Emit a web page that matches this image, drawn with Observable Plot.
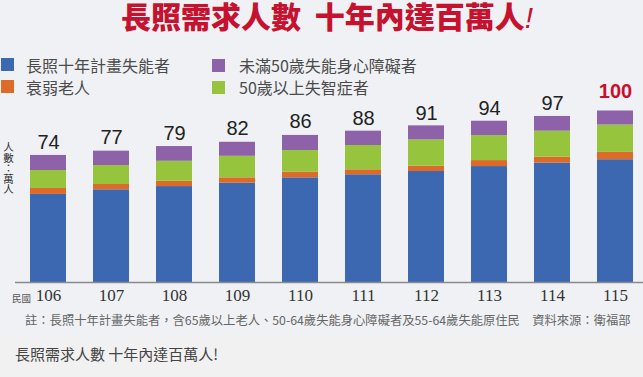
<!DOCTYPE html>
<html>
<head>
<meta charset="utf-8">
<script src="https://cdn.jsdelivr.net/npm/d3@7"></script>
<script src="https://cdn.jsdelivr.net/npm/@observablehq/plot@0.6"></script>
<style>
  html, body { margin: 0; padding: 0; background: #eff1f4; }
  #wrap { position: relative; width: 643px; height: 377px; overflow: hidden; background: #eff1f4;
          font-family: "Noto Sans CJK TC", "Noto Sans", sans-serif; }
  #lower { position: absolute; left: 0; top: 337px; width: 643px; height: 40px; background: #f1f1f1; }
  #title { position: absolute; left: 121px; top: 0px; font-size: 30px; line-height: 30px; font-weight: 900;
           color: #c6112f; white-space: nowrap; letter-spacing: 0px; }
  #title i { font-weight: 300; font-style: italic; font-family: "Liberation Sans", sans-serif; }
  .lg { position: absolute; font-size: 16px; line-height: 18px; color: #4b4b4b; white-space: nowrap; }
  .sw { position: absolute; width: 13px; height: 13px; }
  #chart { position: absolute; left: 0; top: 95px; }
  #ylab { position: absolute; left: 2px; top: 142px; font-size: 10.5px; line-height: 13px;
          color: #333; writing-mode: vertical-rl; text-orientation: upright; white-space: nowrap; }
  #minguo { position: absolute; left: 12px; top: 292px; font-size: 9.5px; line-height: 12px; color: #555; }
  #note { position: absolute; left: 25px; top: 312px; font-size: 12.3px; line-height: 16px; color: #666; white-space: nowrap; }
  #caption { position: absolute; left: 15px; top: 344px; font-size: 15px; line-height: 20px; color: #444; white-space: nowrap; }
</style>
</head>
<body>
<div id="wrap">
  <div id="lower"></div>
  <div id="title">長照需求人數&nbsp;&nbsp;十年內達百萬人<i>!</i></div>
  <div id="legend"></div>
  <div id="ylab">人數：萬人</div>
  <div id="chart"></div>
  <div id="minguo">民國</div>
  <div id="note">註：長照十年計畫失能者，含65歲以上老人、50-64歲失能身心障礙者及55-64歲失能原住民　資料來源：衛福部</div>
  <div id="caption">長照需求人數 十年內達百萬人!</div>
</div>
<script>
// ---- data (萬人) ----
const years = ["106", "107", "108", "109", "110", "111", "112", "113", "114", "115"];
const seriesNames = ["長照十年計畫失能者", "衰弱老人", "50歲以上失智症者", "未滿50歲失能身心障礙者"];
const disabled = [51.5, 54.2, 56.1, 58.1, 61.2, 63.0, 64.9, 67.8, 69.8, 71.8];
const frail    = [3.5, 3.1, 3.1, 3.1, 3.3, 2.9, 3.1, 3.5, 3.5, 4.3];
const dementia = [10.5, 11.1, 11.7, 12.6, 12.7, 14.2, 15.4, 14.6, 15.2, 16.0];
const under50  = [8.8, 8.4, 8.6, 8.2, 8.8, 8.4, 8.2, 8.4, 8.6, 8.2];
const totals   = [74, 77, 79, 82, 86, 88, 91, 94, 97, 100];
const colors   = ["#3b68b0", "#de6a28", "#96c43c", "#8d62a8"];

// ---- legend ----
const legend = document.getElementById("legend");
const legendItems = [
  {i: 0, sx: 1, sy: 58, tx: 26, ty: 56},
  {i: 1, sx: 1, sy: 80, tx: 26, ty: 78},
  {i: 3, sx: 212, sy: 59, tx: 239, ty: 56},
  {i: 2, sx: 212, sy: 81, tx: 239, ty: 78}
];
for (const it of legendItems) {
  const sw = document.createElement("div");
  sw.className = "sw";
  sw.style.left = it.sx + "px"; sw.style.top = it.sy + "px";
  sw.style.background = colors[it.i];
  legend.appendChild(sw);
  const t = document.createElement("div");
  t.className = "lg";
  t.style.left = it.tx + "px"; t.style.top = it.ty + "px";
  t.textContent = seriesNames[it.i];
  legend.appendChild(t);
}

// ---- long table ----
const seriesValues = [disabled, frail, dementia, under50];
const rows = [];
years.forEach((y, j) => {
  seriesNames.forEach((s, k) => rows.push({year: y, series: s, value: seriesValues[k][j]}));
});
const labelRows = years.map((y, j) => ({year: y, total: totals[j]}));

const chart = Plot.plot({
  width: 643,
  height: 215,
  marginLeft: 15,
  marginRight: 0,
  marginTop: 16,
  marginBottom: 28,
  style: {background: "transparent", overflow: "visible", color: "#333"},
  x: {type: "band", domain: years, range: [30, 633], paddingInner: 0.4286, paddingOuter: 0, label: null},
  y: {domain: [0, 100], range: [187, 16], axis: null},
  color: {domain: seriesNames, range: colors},
  marks: [
    Plot.barY(rows, {x: "year", y: "value", fill: "series"}),
    Plot.ruleY([0], {stroke: "#8a8a8a", strokeWidth: 1.5}),
    Plot.axisX({tickSize: 0, tickPadding: 6, fontSize: 17, fontFamily: "Liberation Serif, serif", label: null}),
    Plot.text(labelRows.filter(d => d.total < 100), {
      x: "year", y: "total", text: d => String(d.total), dy: -7, lineAnchor: "bottom",
      fontSize: 20, fontFamily: "Liberation Sans Narrow, Arial Narrow, Liberation Sans, sans-serif", fill: "#222"
    }),
    Plot.text(labelRows.filter(d => d.total >= 100), {
      x: "year", y: "total", text: d => String(d.total), dy: -14, lineAnchor: "bottom",
      fontSize: 20, fontWeight: "bold", fontFamily: "Liberation Sans, sans-serif", fill: "#c8102e"
    })
  ]
});
document.getElementById("chart").appendChild(chart);
</script>
</body>
</html>
